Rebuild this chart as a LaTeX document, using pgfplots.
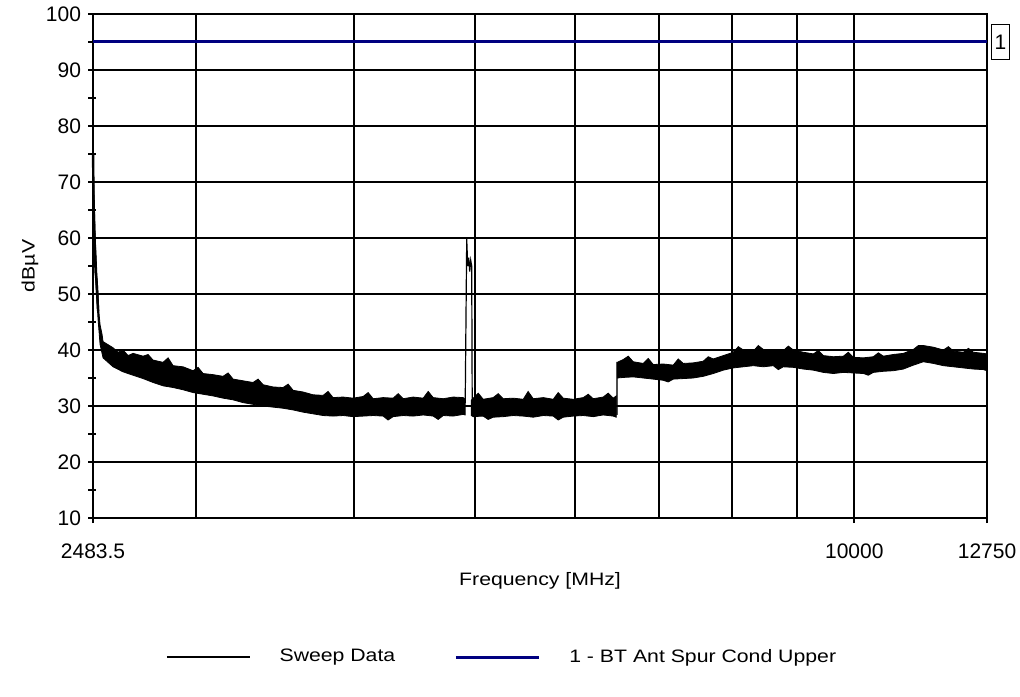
\documentclass[border=0pt]{standalone}
\usepackage{fontspec}
\setmainfont{Liberation Sans}
\newfontfamily\widefont{Liberation Sans}[FakeStretch=1.18]
\usepackage{pgfplots}
\pgfplotsset{compat=1.18}
\definecolor{limitnavy}{RGB}{0,0,128}

\begin{document}
\begin{tikzpicture}
\useasboundingbox (-46.5pt,-89pt) rectangle (463.5pt,259pt);
\begin{axis}[
  at={(0pt,0pt)}, anchor=south west,
  scale only axis, width=447pt, height=252pt,
  xmode=log, xmin=2483.5, xmax=12750, ymin=10, ymax=100,
  xtick={2483.5,10000,12750},
  xticklabels={2483.5,10000,12750},
  extra x ticks={3000,4000,5000,6000,7000,8000,9000},
  extra x tick labels={},
  extra x tick style={major tick length=0pt},
  ytick={10,20,...,100},
  minor y tick num=1,
  minor x tick num=0,
  xtick pos=bottom, ytick pos=left,
  xmajorgrids, ymajorgrids,
  grid style={black, line width=1pt},
  axis line style={line width=1pt},
  tick style={black, line width=1pt},
  tick align=outside,
  major tick length=2.5pt,
  minor tick length=4pt,
  every minor tick/.append style={xshift=1.5pt},
  /pgf/number format/assume math mode=true,
  ticklabel style={font=\fontsize{10.5}{12}\selectfont},
  xticklabel style={yshift=-7pt},
  xlabel={Frequency [MHz]},
  ylabel={dBµV},
  label style={font=\widefont\fontsize{9}{11}\selectfont},
  xlabel style={at={(axis description cs:0.5,-0.125)}, anchor=center},
  ylabel style={at={(axis description cs:-0.0705,0.5)}, anchor=center},
  clip=false,
  legend columns=2,
  legend cell align=left,
  legend image code/.code={\draw[#1] (0pt,0pt) -- (41.5pt,0pt);},
  legend style={at={(0.0817,-0.2758)}, anchor=west, draw=none, fill=none,
    inner sep=0pt, outer sep=0pt,
    nodes={inner sep=0pt, font=\widefont\fontsize{9}{11}\selectfont},
    /tikz/every odd column/.append style={column sep=14.5pt},
    /tikz/every even column/.append style={column sep=29.5pt}},
]

% sweep trace, part 1 (start to the spur)
\addplot[fill=black, draw=black, line width=0.4pt, forget plot] coordinates {
 (2483.5,75) (2488.0,68) (2492.6,61) (2497.1,57) (2501.7,53) (2506.3,50)
 (2510.9,46.5) (2515.5,44.5) (2524.7,42.8) (2529.4,41.5) (2576.1,40.4)
 (2599.8,39.6) (2623.7,40.0) (2647.8,39.0) (2672.2,39.4) (2721.6,38.9)
 (2746.6,39.2) (2771.8,38.2) (2823.0,37.8) (2849.0,38.6) (2875.2,37.2)
 (2928.3,37.0) (2982.4,36.3) (3009.8,36.9) (3037.5,35.8) (3093.6,35.6)
 (3150.8,35.3) (3179.8,35.9) (3209.0,34.8) (3268.3,34.5) (3328.6,34.2)
 (3359.2,34.8) (3390.1,33.8) (3452.8,33.4) (3516.6,33.3) (3549.0,33.9)
 (3581.5,32.8) (3647.7,32.5) (3715.1,32.0) (3783.7,31.9) (3818.5,32.6)
 (3853.6,31.5) (3924.8,31.6) (3997.3,31.4) (4071.1,31.7) (4108.5,32.4)
 (4146.3,31.3) (4222.9,31.5) (4300.9,31.4) (4340.4,32.2) (4380.4,31.3)
 (4461.3,31.6) (4543.7,31.4) (4585.5,32.6) (4627.7,31.5) (4713.2,31.3)
 (4800.2,31.6) (4888.9,31.5) (4906.8,31.2)
 (4906.8,28.4) (4888.9,28.5) (4800.2,28.2) (4713.2,28.3) (4670.0,27.6)
 (4627.7,28.2) (4543.7,28.4) (4461.3,28.2) (4380.4,28.3) (4300.9,28.1)
 (4261.0,27.5) (4222.9,28.2) (4146.3,28.3) (4071.1,28.2) (3997.3,28.1)
 (3924.8,28.3) (3853.6,28.2) (3783.7,28.3) (3715.1,28.6) (3647.7,28.9)
 (3581.5,29.3) (3516.6,29.6) (3452.8,29.8) (3390.1,30.0) (3328.6,30.3)
 (3268.3,30.6) (3209.0,31.1) (3150.8,31.4) (3093.6,31.8) (3037.5,32.1)
 (2982.4,32.4) (2928.3,32.9) (2875.2,33.3) (2823.0,33.6) (2771.8,34.2)
 (2721.6,34.9) (2672.2,35.5) (2623.7,36.1) (2576.1,37.0) (2529.4,38.6)
 (2515.5,41.0) (2506.3,45.5) (2497.1,51.0) (2488.0,59.0) (2483.5,62.0)
} -- cycle;

% steep start of the sweep, drawn heavier
\addplot[black, line width=1.2pt, forget plot] coordinates {
 (2483.5,75) (2486.0,66) (2490.0,60) (2495.0,54) (2500.0,52) (2506.3,47)
};

% spur near 4.9 GHz
\addplot[black, line width=0.6pt, forget plot] coordinates {
 (4906.8,30.5) (4920.3,59.8) (4929.3,55.0) (4938.3,56.5) (4947.4,54.0)
 (4956.5,56.0) (4965.5,55.0) (4970.1,30.0)
};

% sweep trace, part 2 (spur to the step)
\addplot[fill=black, draw=black, line width=0.4pt, forget plot] coordinates {
 (4961.0,31.0) (4979.2,31.4) (5025.0,32.3) (5071.2,31.2) (5164.9,31.5)
 (5212.0,32.2) (5260.3,31.3) (5357.5,31.4) (5456.5,31.2) (5506.0,32.6)
 (5557.3,31.3) (5660.0,31.5) (5764.5,31.2) (5817.0,32.4) (5871.0,31.4)
 (5979.5,31.2) (6090.0,31.5) (6146.0,32.1) (6202.5,31.3) (6317.0,31.6)
 (6375.0,32.3) (6433.7,31.4) (6469.1,31.8)
 (6469.1,28.0) (6433.7,28.2) (6317.0,28.4) (6202.5,28.1) (6090.0,28.3)
 (5979.5,28.2) (5871.0,28.0) (5817.0,27.5) (5764.5,28.2) (5660.0,28.3)
 (5557.3,28.0) (5456.5,28.2) (5357.5,28.3) (5260.3,28.1) (5164.9,28.0)
 (5117.0,27.6) (5071.2,28.2) (4979.2,28.1) (4961.0,28.3)
} -- cycle;

% sweep trace, part 3 (step to the end)
\addplot[fill=black, draw=black, line width=0.4pt, forget plot] coordinates {
 (6475.0,37.8) (6481.0,37.8) (6552.6,38.3) (6613.0,38.9) (6673.7,37.9)
 (6797.0,37.6) (6859.0,38.5) (6922.5,37.4) (7050.4,37.5) (7180.7,37.3)
 (7246.0,38.4) (7313.3,37.6) (7448.4,37.7) (7586.0,38.0) (7656.0,38.8)
 (7726.2,38.4) (7868.9,39.0) (8014.3,39.6) (8088.0,40.6) (8162.3,40.0)
 (8313.1,39.8) (8389.0,40.8) (8466.7,40.1) (8623.1,40.0) (8782.4,39.9)
 (8863.0,40.7) (8944.6,40.0) (9109.9,39.6) (9278.2,39.3) (9363.0,39.9)
 (9449.6,39.0) (9624.2,38.8) (9802.0,38.9) (9892.0,39.6) (9983.0,38.7)
 (10167.5,38.6) (10355.3,38.8) (10450.0,39.5) (10546.6,38.9) (10741.5,39.2)
 (10939.9,39.4) (11142.0,40.1) (11244.0,40.8) (11347.9,40.8) (11557.5,40.5)
 (11771.0,40.0) (11879.0,40.6) (11988.5,39.8) (12210.0,39.6) (12322.0,40.3)
 (12435.5,39.6) (12665.3,39.4) (12750.0,39.3)
 (12750.0,36.3) (12665.3,36.5) (12435.5,36.6) (12210.0,36.8) (11988.5,37.0)
 (11771.0,37.2) (11557.5,37.6) (11347.9,37.9) (11142.0,37.3) (10939.9,36.6)
 (10741.5,36.3) (10546.6,36.2) (10355.3,36.0) (10260.0,35.5) (10167.5,35.8)
 (9983.0,35.9) (9802.0,36.0) (9624.2,35.8) (9449.6,36.0) (9278.2,36.4)
 (9109.9,36.6) (8944.6,36.9) (8782.4,37.0) (8702.0,36.5) (8623.1,37.2)
 (8466.7,37.0) (8313.1,37.2) (8162.3,37.0) (8014.3,36.8) (7868.9,36.4)
 (7726.2,35.8) (7586.0,35.3) (7448.4,35.0) (7313.3,34.9) (7180.7,34.8)
 (7115.0,34.3) (7050.4,34.6) (6922.5,34.8) (6797.0,35.0) (6673.7,35.2)
 (6552.6,35.1) (6481.0,35.0) (6481.0,28.5) (6475.0,28.5)
} -- cycle;

\addlegendimage{black, line width=0.75pt}
\addlegendentry{Sweep Data}

\addplot[limitnavy, line width=1.5pt] coordinates {(2483.5,95) (12750,95)};
\addlegendentry{1 - BT Ant Spur Cond Upper}

\node[draw, line width=0.5pt, anchor=west, inner sep=0pt,
  minimum width=9.3pt, minimum height=17.5pt, xshift=1.8pt,
  font=\fontsize{10.5}{12}\selectfont] at (rel axis cs:1,0.9444) {1};
\end{axis}
\end{tikzpicture}
\end{document}
